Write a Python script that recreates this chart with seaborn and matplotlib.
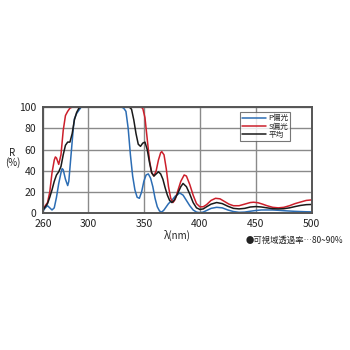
import pandas as pd
import matplotlib

matplotlib.use('Agg')
import matplotlib.pyplot as plt
import seaborn as sns

# wavelength (nm) / reflectance (%)
p_wl = [260, 262, 264, 266, 268, 270, 272, 274, 276, 277, 278, 280, 282, 283, 285, 287, 288, 290, 292, 294,
        330, 332, 334, 336, 338, 340, 342, 344, 346, 348, 350, 352, 354, 356, 358, 360, 362, 364, 366, 368,
        370, 372, 375, 378, 382, 385, 388, 391, 394, 397, 400, 403, 406, 410, 415, 420, 425, 430, 435, 440,
        445, 450, 455, 460, 465, 470, 475, 480, 485, 490, 495, 500]
p_val = [2, 5, 7, 5, 3, 5, 15, 28, 38, 42, 41, 32, 26, 30, 55, 80, 89, 94, 97, 100,
         100, 99, 96, 80, 55, 35, 22, 15, 14, 20, 30, 36, 37, 33, 25, 14, 6, 2, 1, 3,
         6, 9, 12, 16, 19, 17, 12, 7, 3, 1, 0.5, 1, 2.5, 4.5, 5.5, 5, 3, 1.5, 0.8, 1,
         1.8, 2.5, 3, 3, 3, 2.7, 2.3, 2, 1.7, 1.5, 1.3, 1.2]

s_wl = [260, 262, 264, 266, 268, 270, 271, 272, 274, 276, 278, 280, 282, 284, 286,
        347, 349, 351, 353, 355, 357, 359, 361, 363, 365, 366, 368, 370, 372, 374, 376, 378, 380, 383, 386,
        388, 391, 394, 397, 400, 403, 406, 410, 414, 418, 422, 426, 430, 435, 440, 445, 448, 452, 456, 460,
        465, 470, 475, 480, 485, 490, 495, 500]
s_val = [4, 7, 10, 20, 38, 50, 53, 52, 46, 55, 78, 92, 96, 99, 100,
         100, 99, 90, 70, 50, 38, 35, 40, 50, 57, 58, 55, 42, 25, 14, 10, 13, 20, 30, 36,
         35, 27, 17, 9, 6, 6, 8, 12, 14, 13.5, 11, 8.5, 7, 7, 8.5, 10, 10.3, 9.8, 8.5, 7,
         5.5, 5, 5.5, 7, 9, 10.5, 12, 12.5]

a_wl = [260, 262, 264, 266, 268, 270, 272, 274, 276, 278, 280, 282, 284, 286, 288, 290, 292, 294,
        337, 339, 341, 343, 345, 347, 349, 351, 353, 355, 357, 359, 361, 363, 365, 367, 369, 371, 373, 375,
        377, 380, 383, 385, 388, 391, 394, 397, 400, 403, 406, 410, 415, 420, 425, 430, 435, 440, 445, 450,
        455, 460, 465, 470, 475, 480, 485, 490, 495, 500]
a_val = [3, 6, 9, 15, 22, 30, 36, 39, 44, 55, 64, 67, 67, 75, 88, 95, 99, 100,
         100, 98, 88, 75, 65, 63, 66, 67, 60, 48, 38, 35, 37, 39, 37, 32, 24, 17, 12, 10,
         12, 18, 25, 28, 25, 18, 10, 5, 3.5, 4, 6, 8.5, 10, 9, 6.5, 4.5, 4, 4.5, 5.8, 6.2,
         5.8, 5, 4.2, 4, 4.2, 5, 6.2, 7.3, 8, 8.2]

x_ticks = [260, 300, 350, 400, 450, 500]
y_ticks = [0, 20, 40, 60, 80, 100]

sns.set_style("white")
plt.rcParams['font.family'] = ['Noto Sans CJK JP', 'DejaVu Sans']

fig = plt.figure(figsize=(3.5, 3.5), dpi=100)
ax = fig.add_axes([0.123, 0.391, 0.768, 0.303])

sns.lineplot(x=p_wl, y=p_val, color='#2c6db4', linewidth=1.1, label='P偏光', ax=ax)
sns.lineplot(x=s_wl, y=s_val, color='#cc1f2b', linewidth=1.1, label='S偏光', ax=ax)
sns.lineplot(x=a_wl, y=a_val, color='#1a1a1a', linewidth=1.1, label='平均', ax=ax)

ax.set_xlim(260, 500)
ax.set_ylim(0, 100)
ax.set_xticks(x_ticks)
ax.set_yticks(y_ticks)
ax.tick_params(length=0, labelsize=7.5, colors='#222222')
ax.tick_params(axis='x', pad=4)
ax.tick_params(axis='y', pad=5)
ax.grid(True, color='#8a8a8a', linewidth=1.0)
ax.set_axisbelow(True)
for sp in ax.spines.values():
    sp.set_color('#555555')
    sp.set_linewidth(1.4)

ax.set_xlabel('λ(nm)', fontsize=7, labelpad=1, color='#222222')
ax.set_ylabel('')
fig.text(0.036, 0.548, 'R\n(%)', ha='center', va='center', fontsize=7, color='#222222', linespacing=0.9)
fig.text(0.703, 0.312, '●可視域透過率…80~90%', ha='left', va='center', fontsize=6, color='#222222')

leg = ax.legend(loc='upper right', bbox_to_anchor=(0.92, 0.95), fontsize=5.5, frameon=True, fancybox=False,
                handlelength=3.2, handletextpad=0.3, borderpad=0.25, labelspacing=0.05, borderaxespad=0)
leg.get_frame().set_edgecolor('#555555')
leg.get_frame().set_linewidth(0.8)

plt.savefig("out.png", dpi=100, facecolor='white')
